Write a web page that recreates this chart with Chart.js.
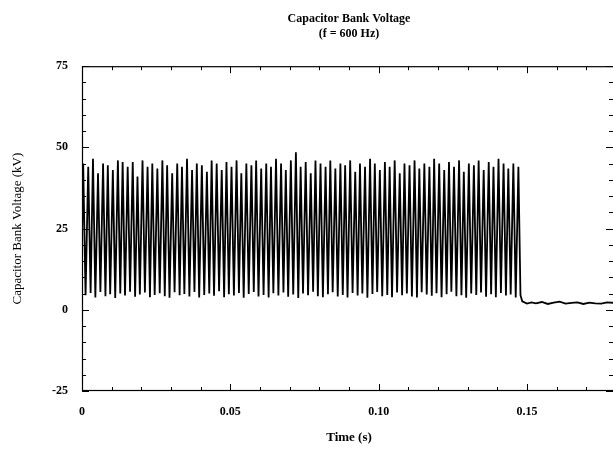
<!DOCTYPE html>
<html>
<head>
<meta charset="utf-8">
<script src="https://cdn.jsdelivr.net/npm/chart.js@4"></script>
<style>
  html, body { margin: 0; padding: 0; background: #fff; overflow: hidden; }
  #wrap { width: 616px; height: 458px; }
</style>
</head>
<body>
<div id="wrap"><canvas id="cap"></canvas></div>
<script>
// time of each peak / trough (s), alternating peak, trough
const times = [
  0.0004, 0.0012, 0.0021, 0.0029, 0.0037, 0.0045,
  0.0054, 0.0062, 0.0071, 0.0079, 0.0087, 0.0095,
  0.0104, 0.0112, 0.0121, 0.0129, 0.0137, 0.0145,
  0.0154, 0.0162, 0.0171, 0.0179, 0.0187, 0.0195,
  0.0204, 0.0212, 0.0221, 0.0229, 0.0237, 0.0245,
  0.0254, 0.0262, 0.0271, 0.0279, 0.0287, 0.0295,
  0.0304, 0.0312, 0.0321, 0.0329, 0.0337, 0.0345,
  0.0354, 0.0362, 0.0371, 0.0379, 0.0387, 0.0395,
  0.0404, 0.0412, 0.0421, 0.0429, 0.0437, 0.0445,
  0.0454, 0.0462, 0.0471, 0.0479, 0.0487, 0.0495,
  0.0504, 0.0512, 0.0521, 0.0529, 0.0537, 0.0545,
  0.0554, 0.0562, 0.0571, 0.0579, 0.0587, 0.0595,
  0.0604, 0.0612, 0.0621, 0.0629, 0.0637, 0.0645,
  0.0654, 0.0662, 0.0671, 0.0679, 0.0687, 0.0695,
  0.0704, 0.0712, 0.0721, 0.0729, 0.0737, 0.0745,
  0.0754, 0.0762, 0.0771, 0.0779, 0.0787, 0.0795,
  0.0804, 0.0812, 0.0821, 0.0829, 0.0837, 0.0845,
  0.0854, 0.0862, 0.0871, 0.0879, 0.0887, 0.0895,
  0.0904, 0.0912, 0.0921, 0.0929, 0.0937, 0.0945,
  0.0954, 0.0962, 0.0971, 0.0979, 0.0987, 0.0995,
  0.1004, 0.1012, 0.1021, 0.1029, 0.1037, 0.1045,
  0.1054, 0.1062, 0.1071, 0.1079, 0.1087, 0.1095,
  0.1104, 0.1112, 0.1121, 0.1129, 0.1137, 0.1145,
  0.1154, 0.1162, 0.1171, 0.1179, 0.1187, 0.1195,
  0.1204, 0.1212, 0.1221, 0.1229, 0.1237, 0.1245,
  0.1254, 0.1262, 0.1271, 0.1279, 0.1287, 0.1295,
  0.1304, 0.1312, 0.1321, 0.1329, 0.1337, 0.1345,
  0.1354, 0.1362, 0.1371, 0.1379, 0.1387, 0.1395,
  0.1404, 0.1412, 0.1421, 0.1429, 0.1437, 0.1445,
  0.1454, 0.1462, 0.1471, 0.1478
];

// kV at each peak
const peakKV = [
  45, 44, 46.5, 42, 45, 44.5, 43, 46, 45.5, 44,
  45.5, 41, 46, 44, 45, 43.5, 46, 44.5, 42, 45,
  44, 46.5, 43, 45, 44.5, 42.5, 46, 45, 43, 45.5,
  44, 46, 42, 45, 44.5, 46, 43.5, 45, 44, 46.5,
  45, 43, 46, 48.5, 44, 45.5, 42, 46, 45, 44,
  46, 43.5, 45, 44.5, 46, 42.5, 45, 44, 46.5, 45,
  43, 45.5, 44, 46, 42, 45, 44.5, 46, 43.5, 45,
  44, 46.5, 45, 43, 45.5, 44, 46, 42.5, 45, 44.5,
  46, 43, 45.5, 44, 46.5, 45, 43.5, 45, 44
];

// kV at each trough
const troughKV = [
  4.5, 5.2, 3.8, 5.5, 4.2, 4.8, 3.6, 5.0, 4.4, 5.6,
  4.0, 4.7, 5.3, 3.9, 4.6, 5.1, 4.2, 3.7, 5.4, 4.5,
  4.9, 4.1, 5.5, 3.8, 4.6, 5.0, 4.3, 5.7, 3.9, 4.8,
  4.4, 5.2, 3.7, 4.9, 5.5, 4.1, 4.6, 3.8, 5.1, 4.4,
  5.3, 4.0, 4.7, 3.6, 5.0, 4.5, 5.6, 4.2, 3.9, 4.8,
  5.4, 4.1, 4.6, 3.8, 5.2, 4.4, 5.0, 3.7, 4.9, 5.5,
  4.2, 4.6, 3.9, 5.3, 4.5, 5.0, 4.1, 3.8, 5.4, 4.7,
  4.3, 5.1, 3.9, 4.8, 5.6, 4.2, 4.5, 3.7, 5.0, 4.6,
  5.3, 4.0, 4.8, 3.9, 5.2, 4.4, 4.7, 3.8, 4.5
];

// after the bank is switched off
const tailT = [0.1484, 0.1500, 0.1515, 0.1530, 0.1550, 0.1570, 0.1590, 0.1610, 0.1630,
               0.1650, 0.1670, 0.1690, 0.1710, 0.1730, 0.1750, 0.1770, 0.1800];
const tailKV = [2.6, 1.9, 2.3, 2.0, 2.4, 1.8, 2.2, 2.5, 1.9,
                2.1, 2.3, 1.8, 2.2, 2.0, 1.9, 2.3, 2.1];

const xTickLabels = ["0", "0.05", "0.10", "0.15"];

// build points
const pts = [{ x: 0, y: 21 }];
times.forEach((t, i) => {
  const k = Math.floor(i / 2);
  pts.push({ x: t, y: i % 2 === 0 ? peakKV[k] : troughKV[k] });
});
tailT.forEach((t, i) => pts.push({ x: t, y: tailKV[i] }));

// box + inward ticks like the plotter output
const boxTicks = {
  id: "boxTicks",
  afterDraw(chart) {
    const ctx = chart.ctx;
    const a = chart.chartArea;
    const xs = chart.scales.x, ys = chart.scales.y;
    ctx.save();
    ctx.strokeStyle = "#000";
    ctx.lineWidth = 1.2;
    ctx.strokeRect(a.left + 0.5, a.top + 0.5, a.right - a.left - 1, a.bottom - a.top - 1);
    ctx.lineWidth = 1;
    ctx.beginPath();
    for (let n = 0; n <= 18; n++) {
      const px = Math.round(xs.getPixelForValue(n / 100)) + 0.5;
      const len = n % 5 === 0 ? 7 : 4;
      ctx.moveTo(px, a.bottom); ctx.lineTo(px, a.bottom - len);
      ctx.moveTo(px, a.top); ctx.lineTo(px, a.top + len);
    }
    for (let v = -25; v <= 75; v += 5) {
      const py = Math.round(ys.getPixelForValue(v)) + 0.5;
      const len = v % 25 === 0 ? 7 : 4;
      ctx.moveTo(a.left, py); ctx.lineTo(a.left + len, py);
      ctx.moveTo(a.right - 3, py); ctx.lineTo(a.right - 3 - len, py);
    }
    ctx.stroke();
    ctx.restore();
  }
};

const serif = "'Liberation Serif', 'DejaVu Serif', serif";

new Chart(document.getElementById("cap"), {
  type: "line",
  data: {
    datasets: [{
      data: pts,
      borderColor: "#000",
      borderWidth: 1.8,
      pointRadius: 0,
      tension: 0,
      fill: false
    }]
  },
  options: {
    responsive: true,
    maintainAspectRatio: false,
    animation: false,
    parsing: false,
    layout: { padding: { left: 2, right: 0, top: 0, bottom: 3 } },
    plugins: {
      legend: { display: false },
      tooltip: { enabled: false },
      title: {
        display: true,
        fullSize: false,
        text: ["Capacitor Bank Voltage", "(f = 600 Hz)"],
        color: "#000",
        font: { family: serif, size: 12, weight: "bold", lineHeight: 1.3 },
        padding: { top: 11, bottom: 24 }
      }
    },
    scales: {
      x: {
        type: "linear",
        min: 0,
        max: 0.18,
        grid: { display: false },
        border: { display: false },
        ticks: {
          stepSize: 0.05,
          includeBounds: false,
          maxRotation: 0,
          color: "#000",
          padding: 6,
          font: { family: serif, size: 12, weight: "bold" },
          callback: (v) => xTickLabels[Math.round(v / 0.05)]
        },
        title: {
          display: true,
          text: "Time (s)",
          color: "#000",
          font: { family: serif, size: 13, weight: "bold" },
          padding: { top: 4, bottom: 10 }
        },
        afterFit: (s) => { s.height = 64; }
      },
      y: {
        min: -25,
        max: 75,
        grid: { display: false },
        border: { display: false },
        ticks: {
          stepSize: 25,
          color: "#000",
          padding: 6,
          font: { family: serif, size: 12, weight: "bold" }
        },
        title: {
          display: true,
          text: "Capacitor Bank Voltage (kV)",
          color: "#000",
          font: { family: serif, size: 13 },
          padding: { top: 8, bottom: 4 }
        },
        afterFit: (s) => { s.width = 80; }
      }
    }
  },
  plugins: [boxTicks]
});
</script>
</body>
</html>
